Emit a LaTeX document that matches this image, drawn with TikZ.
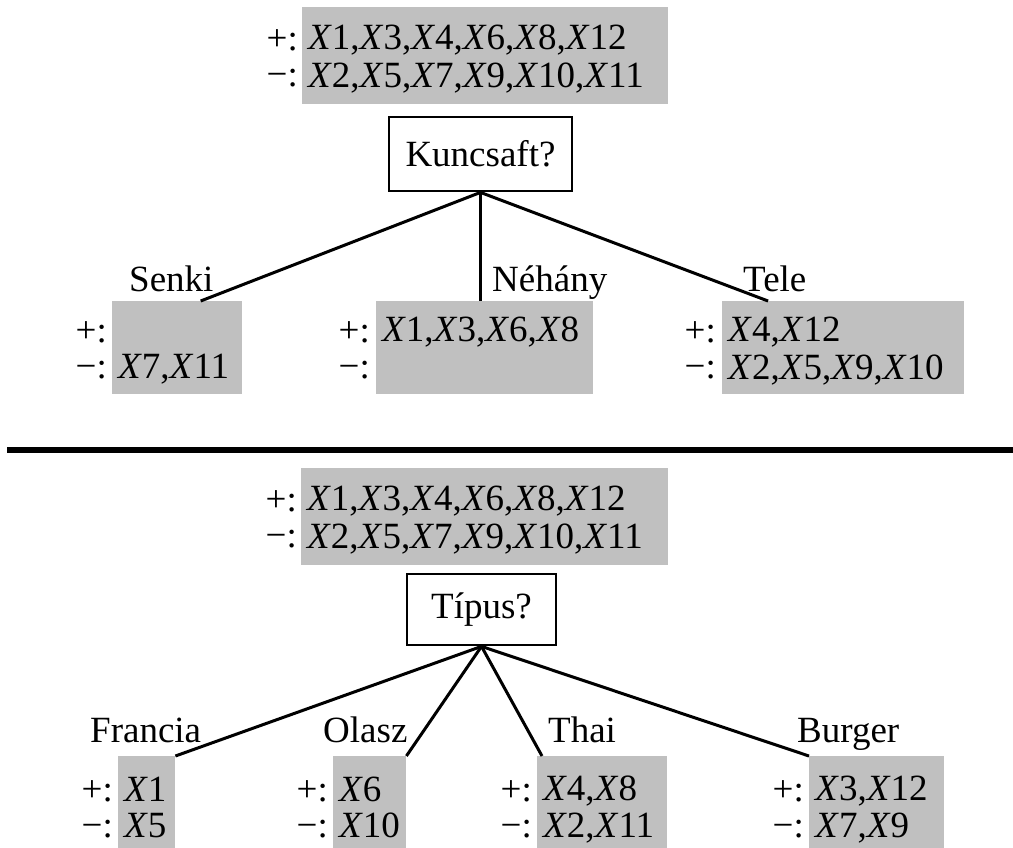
\documentclass[tikz,border=0pt]{standalone}
\usepackage{fontspec}
\setmainfont{Liberation Serif}
\usetikzlibrary{calc,positioning}
\definecolor{setgray}{RGB}{192,192,192}
% example names: italic X followed by an upright index
\newcommand\X[1]{\textit{X}#1}
% fixed-height line so every two-line block has the same height
\newcommand\rowstrut{\rule[-5pt]{0pt}{36pt}}
\tikzset{
  lbl/.style={font=\fontsize{37}{36}\selectfont, inner sep=0pt},
  setbox/.style={lbl, fill=setgray, anchor=north west, align=left,
    inner xsep=6pt, inner ysep=0pt},
  pmlabel/.style={lbl, align=right},
  testbox/.style={lbl, draw, line width=2.8pt, fill=white},
  branch/.style={lbl, anchor=base west},
  edge/.style={line width=3pt},
}
\begin{document}
\begin{tikzpicture}[x=1pt,y=-1pt]
\useasboundingbox (0,0) rectangle (1013,847);
\clip (0,0) rectangle (1013,847);

% ---------- split on Kuncsaft ----------
\node[setbox, text width=354, minimum height=97] (s0) at (302,7)
  {\X1,\X3,\X4,\X6,\X8,\X12\rowstrut\\\X2,\X5,\X7,\X9,\X10,\X11\rowstrut};
\node[pmlabel, left=4pt of s0] (pm0) {+:\rowstrut\\−:\rowstrut};

\node[testbox, minimum width=183, minimum height=74] (q1) at (480.5,154) {Kuncsaft?};

\node[setbox, text width=118, minimum height=93] (senki) at (112,301)
  {\rowstrut\\\X7,\X11\rowstrut};
\node[pmlabel, left=5pt of senki] (pmsenki) {+:\rowstrut\\−:\rowstrut};
\node[setbox, text width=205, minimum height=93] (nehany) at (376,301)
  {\X1,\X3,\X6,\X8\rowstrut\\\rowstrut};
\node[pmlabel, left=6pt of nehany] (pmnehany) {+:\rowstrut\\−:\rowstrut};
\node[setbox, text width=230, minimum height=93] (tele) at (722,301)
  {\X4,\X12\rowstrut\\\X2,\X5,\X9,\X10\rowstrut};
\node[pmlabel, left=6pt of tele] (pmtele) {+:\rowstrut\\−:\rowstrut};

\node[branch] (lsenki) at (129,291) {Senki};
\node[branch] (lnehany) at (492,291) {Néhány};
\node[branch] (ltele) at (743,291) {Tele};

\draw[edge] (q1.south) -- ($(senki.north west)!0.68!(senki.north east)$);
\draw[edge] (q1.south) -- (q1.south |- nehany.north);
\draw[edge] (q1.south) -- ($(tele.north west)!0.19!(tele.north east)$);

% ---------- dividing rule ----------
\coordinate (ruleL) at (7,450);
\coordinate (ruleR) at (1013,450);
\draw[line width=6pt] (ruleL) -- (ruleR);

% ---------- split on Típus ----------
\node[setbox, text width=355, minimum height=97] (s1) at (301,468)
  {\X1,\X3,\X4,\X6,\X8,\X12\rowstrut\\\X2,\X5,\X7,\X9,\X10,\X11\rowstrut};
\node[pmlabel, left=4pt of s1] (pm1) {+:\rowstrut\\−:\rowstrut};

\node[testbox, minimum width=149, minimum height=71] (q2) at (481.5,609.5) {Típus?};

\node[setbox, text width=45, minimum height=100] (francia) at (118,756)
  {\X1\rowstrut\\\X5\rowstrut};
\node[pmlabel, left=5pt of francia] (pmfrancia) {+:\rowstrut\\−:\rowstrut};
\node[setbox, text width=61, minimum height=100] (olasz) at (333,756)
  {\X6\rowstrut\\\X10\rowstrut};
\node[pmlabel, left=5pt of olasz] (pmolasz) {+:\rowstrut\\−:\rowstrut};
\node[setbox, text width=118, minimum height=100] (thai) at (537,756)
  {\X4,\X8\rowstrut\\\X2,\X11\rowstrut};
\node[pmlabel, left=5pt of thai] (pmthai) {+:\rowstrut\\−:\rowstrut};
\node[setbox, text width=123, minimum height=100] (burger) at (809,756)
  {\X3,\X12\rowstrut\\\X7,\X9\rowstrut};
\node[pmlabel, left=5pt of burger] (pmburger) {+:\rowstrut\\−:\rowstrut};

\node[branch] (lfrancia) at (90,742) {Francia};
\node[branch] (lolasz) at (323,742) {Olasz};
\node[branch] (lthai) at (548,742) {Thai};
\node[branch] (lburger) at (797,742) {Burger};

\draw[edge] (q2.south) -- (francia.north east);
\draw[edge] (q2.south) -- (olasz.north east);
\draw[edge] (q2.south) -- ($(thai.north west)+(5,0)$);
\draw[edge] (q2.south) -- (burger.north west);
\end{tikzpicture}
\end{document}
